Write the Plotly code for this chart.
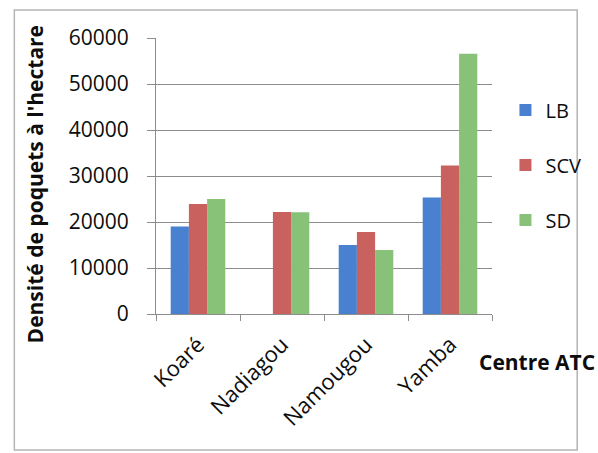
import plotly.graph_objects as go

# Planting density (pockets per hectare) by ATC centre and technique
centres = ["Koaré", "Nadiagou", "Namougou", "Yamba"]
lb = [19000, None, 15000, 25300]
scv = [23900, 22200, 17800, 32300]
sd = [25000, 22100, 13900, 56600]

series = [("LB", lb, "#4a80d0"), ("SCV", scv, "#c9625e"), ("SD", sd, "#88c178")]

W, H = 598, 453
L, R, T, B = 156, 91, 38, 139
pw, ph = W - L - R, H - T - B

fig = go.Figure()
for name, vals, col in series:
    fig.add_trace(go.Bar(
        x=centres, y=vals, name=name, legendgroup=name,
        marker=dict(color=col, line=dict(width=0)),
    ))

font_family = "Open Sans, Noto Sans, sans-serif"
ink = "#0d0d0d"

fig.update_layout(
    width=W, height=H,
    margin=dict(l=L, r=R, t=T, b=B, pad=0),
    paper_bgcolor="white", plot_bgcolor="white",
    barmode="group", bargap=0.35, bargroupgap=0,
    font=dict(family=font_family, color=ink),
    showlegend=True,
    legend=dict(
        x=1.04, y=0.81, xanchor="left", yanchor="top",
        font=dict(size=20, color=ink),
        tracegroupgap=26, itemwidth=30,
        bgcolor="rgba(0,0,0,0)",
    ),
    xaxis=dict(
        type="category",
        showline=True, linecolor="#8c8c8c", linewidth=1,
        ticks="outside", tickson="boundaries", ticklen=6, tickcolor="#8c8c8c",
        ticklabelstandoff=8,
        tickangle=-45, tickfont=dict(size=22, color=ink),
        showgrid=False,
    ),
    yaxis=dict(
        range=[0, 60000], dtick=10000, tickformat="d",
        showline=True, linecolor="#8c8c8c", linewidth=1,
        ticks="outside", ticklen=8, tickcolor="#8c8c8c",
        ticklabelstandoff=14,
        tickfont=dict(size=21, color=ink),
        showgrid=True, gridcolor="#8c8c8c", gridwidth=1,
        zeroline=False,
    ),
    annotations=[
        dict(
            text="<b>Densité de poquets à l'hectare</b>", xref="paper", yref="paper",
            x=(30 - L) / pw, y=(T + ph - 184) / ph, textangle=-90,
            xanchor="center", yanchor="middle", showarrow=False,
            font=dict(size=21, color=ink),
        ),
        dict(
            text="<b>Centre ATC</b>", xref="paper", yref="paper",
            x=(554 - L) / pw, y=(T + ph - 362) / ph,
            xanchor="center", yanchor="middle", showarrow=False,
            font=dict(size=21, color=ink),
        ),
    ],
    shapes=[dict(
        type="rect", xref="paper", yref="paper",
        x0=(8 - L) / pw, x1=(596 - L) / pw,
        y0=(T + ph - 450) / ph, y1=(T + ph - 10) / ph,
        line=dict(color="#b4b4b4", width=1.5), layer="below",
    )],
)

fig.write_html("out.html")
